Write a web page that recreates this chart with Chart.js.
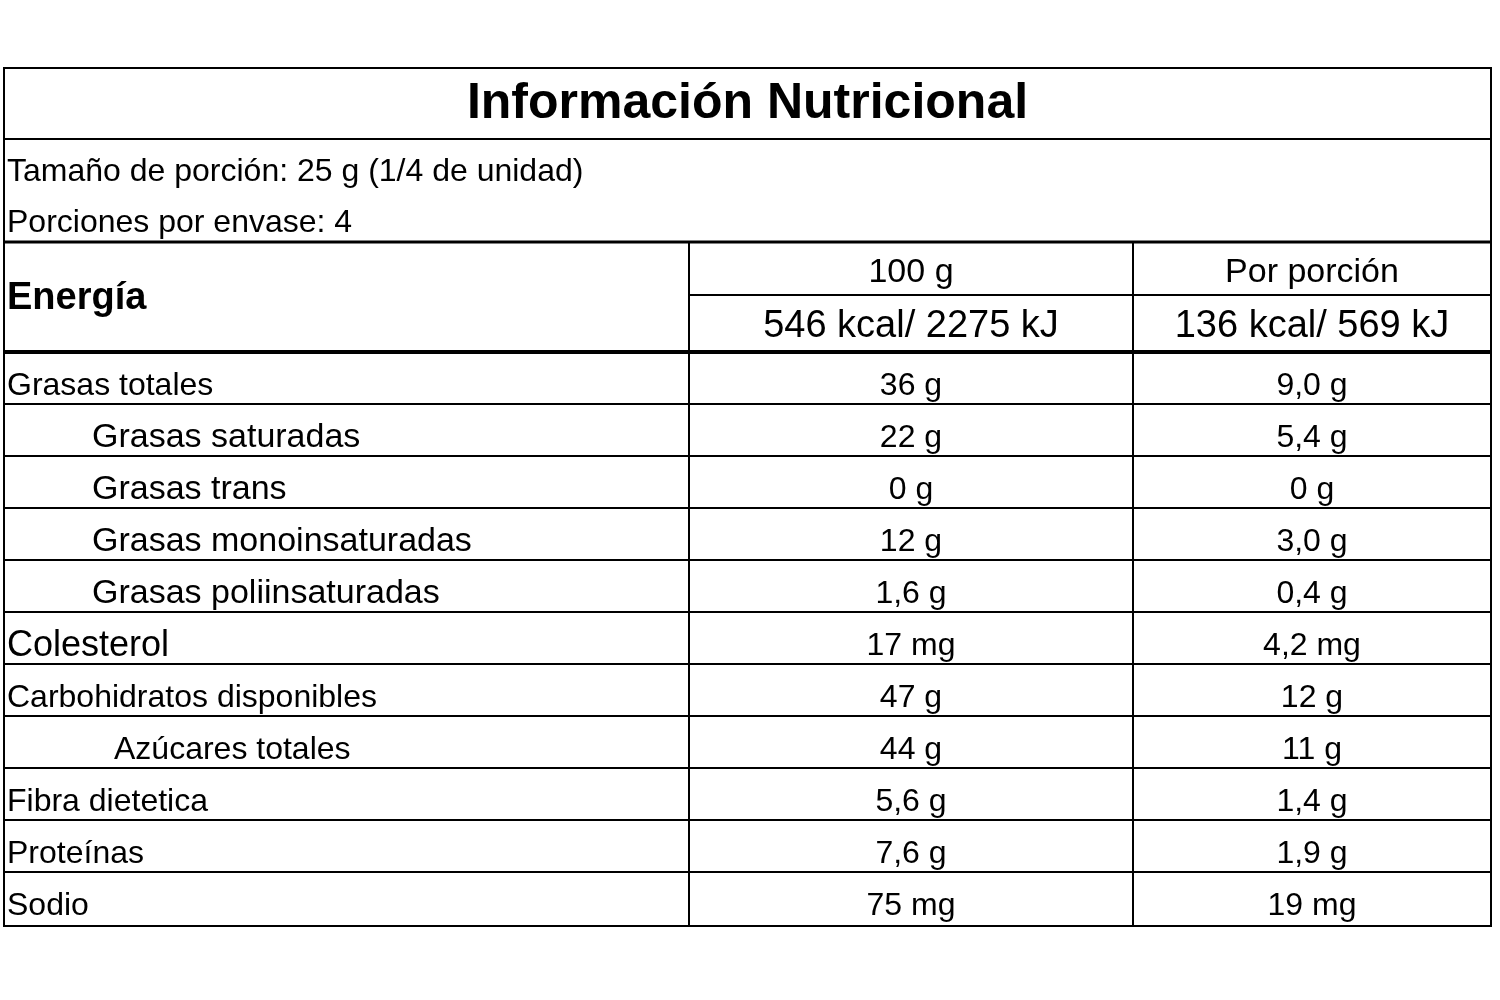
<!DOCTYPE html>
<html><head><meta charset="utf-8">
<script src="https://cdn.jsdelivr.net/npm/chart.js@4/dist/chart.umd.min.js"></script>
<style>body{margin:0;background:#fff}#wrap{width:1500px;height:1000px}</style>
</head><body><div id="wrap"><canvas id="c"></canvas></div>
<script>
// Data
const title = "Información Nutricional";
const servingLines = ["Tamaño de porción: 25 g (1/4 de unidad)", "Porciones por envase: 4"];
const energyLabel = "Energía";
const columnHeads = ["100 g", "Por porción"];
const energyValues = ["546 kcal/ 2275 kJ", "136 kcal/ 569 kJ"];
const nutrients = ["Grasas totales","Grasas saturadas","Grasas trans","Grasas monoinsaturadas","Grasas poliinsaturadas","Colesterol","Carbohidratos disponibles","Azúcares totales","Fibra dietetica","Proteínas","Sodio"];
const indent = [0,1,1,1,1,0,0,2,0,0,0];
const per100 = ["36 g","22 g","0 g","12 g","1,6 g","17 mg","47 g","44 g","5,6 g","7,6 g","75 mg"];
const perServing = ["9,0 g","5,4 g","0 g","3,0 g","0,4 g","4,2 mg","12 g","11 g","1,4 g","1,9 g","19 mg"];

// Layout (in scale units)
const L = 4, R = 1491, TOP = 68, BOTTOM = 926;
const COL1 = 689, COL2 = 1133;
const TITLE_B = 139, SERV_B = 242, SUB_Y = 295, ENERGY_B = 352, ROW_H = 52;
const labelSize = [32,34,34,34,34,36,32,32,32,32,32];
const FONT = '"Liberation Sans", Arial, sans-serif';

const tablePlugin = {
  id: 'table',
  afterDraw(chart) {
    const {ctx, scales:{x, y}} = chart;
    const px = v => x.getPixelForValue(v), py = v => y.getPixelForValue(v);
    const line = (x1,y1,x2,y2,w) => {ctx.beginPath();ctx.lineWidth=w;ctx.moveTo(px(x1),py(y1));ctx.lineTo(px(x2),py(y2));ctx.stroke();};
    const text = (t,xv,yv,size,align,bold) => {ctx.font=(bold?'bold ':'')+size+'px '+FONT;ctx.textAlign=align;ctx.textBaseline='middle';ctx.fillText(t,px(xv),py(yv));};
    ctx.save(); ctx.strokeStyle='#000'; ctx.fillStyle='#000';
    ctx.lineWidth=2; ctx.strokeRect(px(L),py(TOP),px(R)-px(L),py(BOTTOM)-py(TOP));
    line(L,TITLE_B,R,TITLE_B,2);
    line(L,SERV_B,R,SERV_B,3);
    line(COL1,SUB_Y,R,SUB_Y,2);
    line(L,ENERGY_B,R,ENERGY_B,4);
    line(COL1,SERV_B,COL1,BOTTOM,2);
    line(COL2,SERV_B,COL2,BOTTOM,2);
    text(title,(L+R)/2,104,50,'center',true);
    servingLines.forEach((s,i)=>text(s,L+3,172+i*51,32,'left',false));
    text(energyLabel,L+3,299,38,'left',true);
    const c1=(COL1+COL2)/2, c2=(COL2+R)/2;
    text(columnHeads[0],c1,273,34,'center',false);
    text(columnHeads[1],c2,273,34,'center',false);
    text(energyValues[0],c1,327,38,'center',false);
    text(energyValues[1],c2,327,38,'center',false);
    nutrients.forEach((n,i)=>{
      const top=ENERGY_B+i*ROW_H;
      if(i>0) line(L,top,R,top,2);
      const xoff = indent[i]===1?88:indent[i]===2?110:3;
      text(n,L+xoff,top+34,labelSize[i],'left',false);
      text(per100[i],c1,top+34,32,'center',false);
      text(perServing[i],c2,top+34,32,'center',false);
    });
    ctx.restore();
  }
};

new Chart(document.getElementById('c'), {
  type: 'scatter',
  data: { datasets: [{ data: [] }] },
  options: {
    responsive: true, maintainAspectRatio: false, animation: false,
    layout: { padding: 0 },
    plugins: { legend: { display: false }, tooltip: { enabled: false } },
    scales: {
      x: { type: 'linear', min: 0, max: 1500, display: false },
      y: { type: 'linear', min: 0, max: 1000, reverse: true, display: false }
    }
  },
  plugins: [tablePlugin]
});
</script></body></html>
